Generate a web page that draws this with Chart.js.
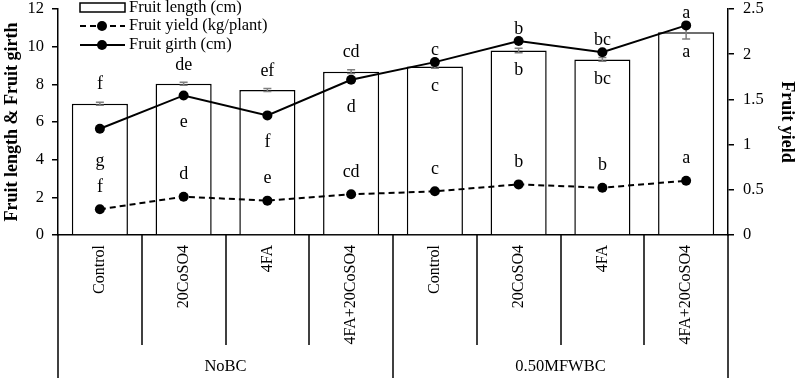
<!DOCTYPE html>
<html>
<head>
<meta charset="utf-8">
<script src="https://cdn.jsdelivr.net/npm/chart.js@4.4.1/dist/chart.umd.min.js"></script>
<style>
  html, body { margin: 0; padding: 0; background: #fff; }
  #wrap { width: 797px; height: 378px; position: relative; }
</style>
</head>
<body>
<div id="wrap"><canvas id="chart"></canvas></div>
<script>
const categories = ['Control', '20CoSO4', '4FA', '4FA+20CoSO4', 'Control', '20CoSO4', '4FA', '4FA+20CoSO4'];
const groups = ['NoBC', '0.50MFWBC'];

const fruitLength = [6.97, 8.03, 7.7, 8.67, 8.95, 9.8, 9.32, 10.76];
const lengthErr = [0.08, 0.08, 0.08, 0.1, 0.1, 0.12, 0.1, 0.35];
const fruitGirth = [5.64, 7.41, 6.35, 8.24, 9.18, 10.3, 9.7, 11.13];
const fruitYield = [0.284, 0.424, 0.38, 0.45, 0.483, 0.56, 0.523, 0.6];

const lengthLetters = ['f', 'de', 'ef', 'cd', 'c', 'b', 'bc', 'a'];
const girthLetters = ['g', 'e', 'f', 'd', 'c', 'b', 'bc', 'a'];
const yieldLetters = ['f', 'd', 'e', 'cd', 'c', 'b', 'b', 'a'];

const leftTicks = [0, 2, 4, 6, 8, 10, 12];
const rightTicks = [0, 0.5, 1, 1.5, 2, 2.5];

const FONT = 'Liberation Serif';
Chart.defaults.font.family = FONT;
Chart.defaults.font.size = 16;
Chart.defaults.color = '#000';

// letters, error bars, legend and the two-level category axis
const decor = {
  id: 'decor',
  afterDatasetDraw(chart, args) {
    if (args.index !== 0) return;
    const ctx = chart.ctx;
    const y = chart.scales.y;
    ctx.save();
    ctx.strokeStyle = '#7f7f7f';
    ctx.lineWidth = 1.5;
    args.meta.data.forEach((bar, i) => {
      const top = y.getPixelForValue(fruitLength[i] + lengthErr[i]);
      const bot = y.getPixelForValue(fruitLength[i] - lengthErr[i]);
      ctx.beginPath();
      ctx.moveTo(bar.x, top); ctx.lineTo(bar.x, bot);
      ctx.moveTo(bar.x - 4, top); ctx.lineTo(bar.x + 4, top);
      ctx.moveTo(bar.x - 4, bot); ctx.lineTo(bar.x + 4, bot);
      ctx.stroke();
    });
    ctx.restore();
  },
  afterDatasetsDraw(chart) {
    const ctx = chart.ctx;
    const y = chart.scales.y;
    const y1 = chart.scales.y1;
    const bars = chart.getDatasetMeta(0).data;
    ctx.save();
    ctx.fillStyle = '#000';
    ctx.font = '18px ' + FONT;
    ctx.textAlign = 'center';
    ctx.textBaseline = 'middle';
    bars.forEach((bar, i) => {
      const x = bar.x;
      const barTop = y.getPixelForValue(fruitLength[i]);
      const girthY = y.getPixelForValue(fruitGirth[i]);
      const yieldY = y1.getPixelForValue(fruitYield[i]);
      if (i < 4) {
        ctx.fillText(lengthLetters[i], x, barTop - 19);
        ctx.fillText(girthLetters[i], x, girthY + (i === 0 ? 32 : 27));
      } else {
        ctx.fillText(lengthLetters[i], x, barTop + 20);
        ctx.fillText(girthLetters[i], x, girthY - 12);
      }
      ctx.fillText(yieldLetters[i], x, yieldY - 22);
    });

    // legend
    ctx.textAlign = 'left';
    ctx.font = '16.5px ' + FONT;
    ctx.strokeStyle = '#000';
    ctx.lineWidth = 1.5;
    ctx.strokeRect(80, 3, 45, 9);
    ctx.fillText('Fruit length (cm)', 129, 8);
    ctx.lineWidth = 2;
    ctx.setLineDash([6, 4]);
    ctx.beginPath(); ctx.moveTo(80, 26); ctx.lineTo(125, 26); ctx.stroke();
    ctx.setLineDash([]);
    ctx.beginPath(); ctx.arc(102, 26, 5, 0, Math.PI * 2); ctx.fill();
    ctx.fillText('Fruit yield (kg/plant)', 129, 26);
    ctx.beginPath(); ctx.moveTo(80, 45); ctx.lineTo(125, 45); ctx.stroke();
    ctx.beginPath(); ctx.arc(102, 45, 5, 0, Math.PI * 2); ctx.fill();
    ctx.fillText('Fruit girth (cm)', 129, 45);
    ctx.restore();
  },
  afterDraw(chart) {
    const ctx = chart.ctx;
    const area = chart.chartArea;
    const n = categories.length;
    const w = (area.right - area.left) / n;
    ctx.save();
    ctx.strokeStyle = '#000';
    ctx.lineWidth = 1.5;
    for (let k = 0; k <= n; k++) {
      const x = Math.round(area.left + k * w);
      const end = k % 4 === 0 ? chart.height : area.bottom + 110;
      ctx.beginPath();
      ctx.moveTo(x, area.bottom);
      ctx.lineTo(x, end);
      ctx.stroke();
    }
    ctx.fillStyle = '#000';
    ctx.font = '16.5px ' + FONT;
    ctx.textAlign = 'center';
    ctx.textBaseline = 'middle';
    groups.forEach((g, gi) => {
      const cx = area.left + (gi * 4 + 2) * w;
      ctx.fillText(g, cx, area.bottom + 132);
    });
    ctx.restore();
  }
};

new Chart(document.getElementById('chart'), {
  type: 'bar',
  data: {
    labels: categories,
    datasets: [
      {
        label: 'Fruit length (cm)',
        data: fruitLength,
        backgroundColor: '#fff',
        borderColor: '#000',
        borderWidth: 1.5,
        barPercentage: 0.67,
        categoryPercentage: 1,
        yAxisID: 'y',
        order: 3
      },
      {
        type: 'line',
        label: 'Fruit yield (kg/plant)',
        data: fruitYield,
        borderColor: '#000',
        backgroundColor: '#000',
        borderWidth: 2,
        borderDash: [6, 4],
        pointRadius: 5,
        pointBorderWidth: 0,
        tension: 0,
        yAxisID: 'y1',
        order: 2
      },
      {
        type: 'line',
        label: 'Fruit girth (cm)',
        data: fruitGirth,
        borderColor: '#000',
        backgroundColor: '#000',
        borderWidth: 2,
        pointRadius: 5,
        pointBorderWidth: 0,
        tension: 0,
        yAxisID: 'y',
        order: 1
      }
    ]
  },
  options: {
    responsive: true,
    maintainAspectRatio: false,
    animation: false,
    layout: { padding: { top: 9, left: 0, right: 0, bottom: 0 } },
    plugins: { legend: { display: false }, tooltip: { enabled: false } },
    scales: {
      x: {
        grid: { display: false, drawTicks: false },
        border: { display: true, color: '#000', width: 1.5 },
        ticks: { minRotation: 90, maxRotation: 90, autoSkip: false, padding: 10, font: { size: 16 } },
        afterFit(s) { s.height = 143; s.paddingLeft = 0; s.paddingRight = 0; }
      },
      y: {
        position: 'left',
        min: 0,
        max: 12,
        afterBuildTicks(s) { s.ticks = leftTicks.map((v) => ({ value: v })); },
        ticks: { padding: 8, font: { size: 16.5 }, callback: (v) => v },
        grid: { drawOnChartArea: false, tickLength: 6, color: '#000', lineWidth: 1.5 },
        border: { display: true, color: '#000', width: 1.5 },
        title: { display: true, text: 'Fruit length & Fruit girth', font: { size: 18, weight: 'bold' }, padding: { top: 2, bottom: 0 } },
        afterFit(s) { s.width = 58; s.paddingTop = 0; s.paddingBottom = 0; }
      },
      y1: {
        position: 'right',
        min: 0,
        max: 2.5,
        afterBuildTicks(s) { s.ticks = rightTicks.map((v) => ({ value: v })); },
        ticks: { padding: 9, font: { size: 16.5 }, callback: (v) => v },
        grid: { drawOnChartArea: false, tickLength: 6, color: '#000', lineWidth: 1.5 },
        border: { display: true, color: '#000', width: 1.5 },
        title: { display: true, text: 'Fruit yield', font: { size: 18, weight: 'bold' }, padding: { top: 0, bottom: 0 } },
        afterFit(s) { s.width = 69; s.paddingTop = 0; s.paddingBottom = 0; }
      }
    }
  },
  plugins: [decor]
});
</script>
</body>
</html>
